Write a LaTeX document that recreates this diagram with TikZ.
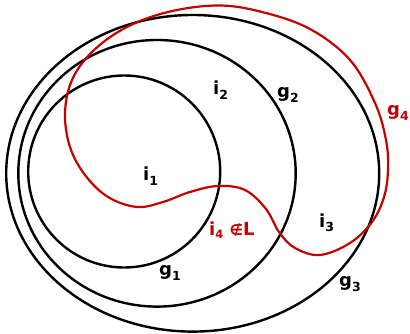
\documentclass[tikz,border=0pt]{standalone}
\usepackage{fontspec}
\setmainfont{DejaVu Sans}[BoldFont={DejaVu Sans Bold}]
\definecolor{gred}{RGB}{196,0,0}
\newcommand{\lblsub}[1]{\raisebox{-4.5pt}{\fontsize{12.5}{12}\selectfont #1}}
\tikzset{
  blackline/.style={draw=black, line width=2.4pt},
  redline/.style={draw=gred, line width=2.2pt},
  lbl/.style={anchor=base west, inner sep=0pt, font=\fontsize{18}{18}\selectfont\bfseries},
}
\begin{document}
\begin{tikzpicture}[x=1pt,y=-1pt]
\useasboundingbox (0,0) rectangle (410,334);
% ellipses
\path[blackline] (192.7,173.3) ellipse [x radius=186.5pt, y radius=158.3pt];
\path[blackline] (157,173.3) ellipse [x radius=138.7pt, y radius=133.3pt];
\path[blackline] (124.2,171.5) circle [radius=96pt];
% red curve g4
\path[redline] plot[smooth cycle, tension=0.6] coordinates {
 (218,5.5) (262,12) (310,29) (350,60) (375,103) (386,140) (388,170)
 (384,197) (372,222) (350,243) (320,255) (295,248) (279,232)
 (266,209) (245,190) (218,186) (190,192) (163,202) (137,207)
 (108,197) (85,175) (70,147) (65,113) (72,80) (92,52) (125,28) (168,12)};
% labels
\node[lbl] (i1) at (143,181) {i\lblsub{1}};
\node[lbl] (i2) at (213,95) {i\lblsub{2}};
\node[lbl] (g2) at (277,98) {g\lblsub{2}};
\node[lbl, text=gred] (g4) at (387,116) {g\lblsub{4}};
\node[lbl] (i3) at (319,227) {i\lblsub{3}};
\node[lbl, text=gred] (i4) at (209,236) {i\raisebox{-3pt}{\fontsize{11.5}{11}\selectfont 4} {\fontsize{15}{15}\selectfont ∉}L};
\node[lbl] (g1) at (159,276) {g\lblsub{1}};
\node[lbl] (g3) at (339,287) {g\lblsub{3}};
\end{tikzpicture}
\end{document}
